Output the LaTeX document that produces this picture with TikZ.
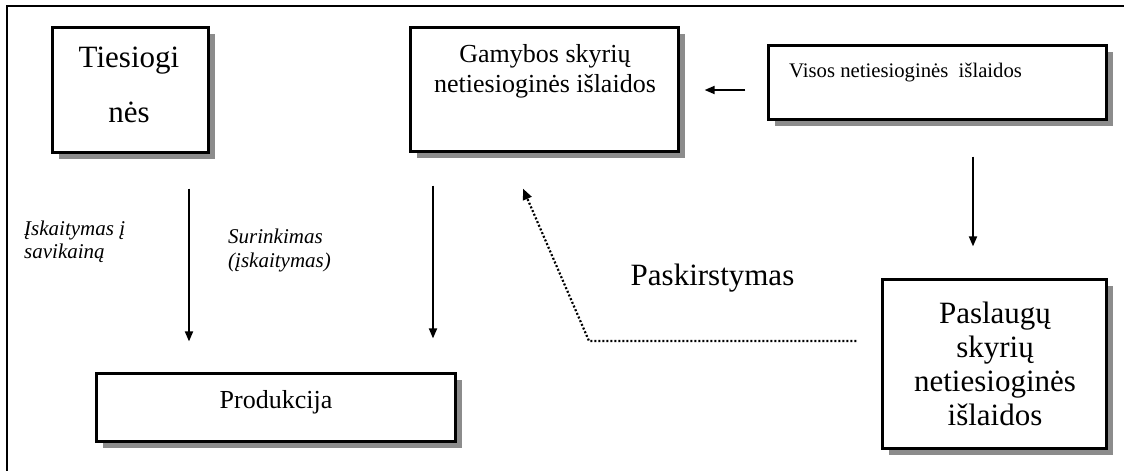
\documentclass[tikz,border=0pt]{standalone}
\usepackage{fontspec}
\setmainfont{Liberation Serif}
\usetikzlibrary{arrows.meta,shadows}
\tikzset{
  box/.style={draw=black, line width=3.2pt, fill=white, inner sep=0pt,
    drop shadow={shadow xshift=6pt, shadow yshift=-6pt, fill=black!45, opacity=1}},
  txt/.style={inner sep=0pt, anchor=base},
  txtl/.style={inner sep=0pt, anchor=base west},
  arr/.style={line width=1.8pt, -{Triangle[length=10pt,width=8pt]}},
  darr/.style={line width=2.2pt, dash pattern=on 2pt off 2pt, -{Triangle[length=11pt,width=9pt]}},
  frame/.style={line width=2pt}
}
\begin{document}
\begin{tikzpicture}[x=1pt,y=-1pt]
\useasboundingbox (0,0) rectangle (1124,471);
\draw[frame] (1124,6) -- (7,6) -- (7,471);

% boxes
\node[box, minimum width=156pt, minimum height=125pt] (ties) at (130.5,90) {};
\node[box, minimum width=268pt, minimum height=124pt] (gam) at (544.5,89.5) {};
\node[box, minimum width=338pt, minimum height=74pt] (vis) at (937.5,82.5) {};
\node[box, minimum width=359pt, minimum height=68pt] (prod) at (276,407.5) {};
\node[box, minimum width=224pt, minimum height=169pt] (pasl) at (994.5,364) {};

% texts
\begin{scope}[font=\fontsize{31}{34}\selectfont]
\node[txt] (tiesA) at (129,67) {Tiesiogi};
\node[txt] (tiesB) at (129,122) {nės};
\node[txt] (paskT) at (712.5,285) {Paskirstymas};
\node[txt] (paslA) at (995,323) {Paslaugų};
\node[txt] (paslB) at (995,357) {skyrių};
\node[txt] (paslC) at (995,391) {netiesioginės};
\node[txt] (paslD) at (995,425) {išlaidos};
\end{scope}
\begin{scope}[font=\fontsize{26}{30}\selectfont]
\node[txt] (gamA) at (545,62) {Gamybos skyrių};
\node[txt] (gamB) at (545,92.5) {netiesioginės išlaidos};
\node[txt] (prodT) at (276,408) {Produkcija};
\end{scope}
\node[txtl, font=\fontsize{20.7}{24}\selectfont] (visT) at (789,77.5) {Visos netiesioginės~ išlaidos};
\begin{scope}[font=\fontsize{21}{24}\selectfont\itshape]
\node[txtl] (lblA) at (24,235) {Įskaitymas į};
\node[txtl] (lblB) at (24,258) {savikainą};
\node[txtl] (lblC) at (228,243) {Surinkimas};
\node[txtl] (lblD) at (228,267) {(įskaitymas)};
\end{scope}

% connectors
\draw[arr] ([xshift=58.5pt,yshift=-34.5pt]ties.south) -- ([xshift=-87pt,yshift=30.5pt]prod.north);
\draw[arr] ([xshift=-111.5pt,yshift=-32.5pt]gam.south) -- ([xshift=157pt,yshift=33.5pt]prod.north);
\draw[arr] ([xshift=-21.5pt,yshift=-7.5pt]vis.west) -- ([xshift=24.5pt,yshift=-0.5pt]gam.east);
\draw[arr] ([xshift=35.5pt,yshift=-35.5pt]vis.south) -- ([xshift=-21.5pt,yshift=31.5pt]pasl.north);
\coordinate (bend) at (589,341);
\draw[darr] ([xshift=-24.5pt,yshift=23pt]pasl.west) -- (bend) -- ([xshift=-21.5pt,yshift=-35.5pt]gam.south);
\end{tikzpicture}
\end{document}
